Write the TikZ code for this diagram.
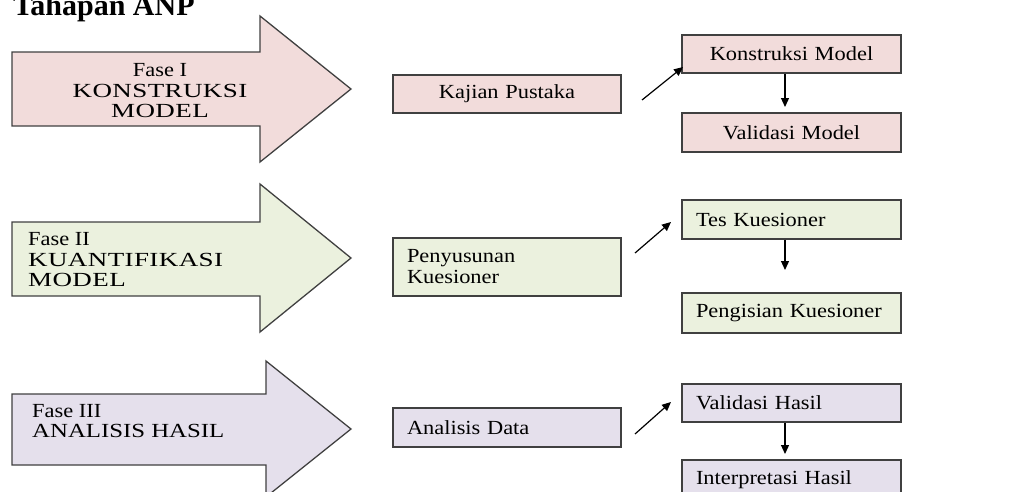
\documentclass[tikz,border=0pt]{standalone}
\usepackage{fontspec}
\setmainfont{Liberation Serif}
\newfontfamily\boxfont[FakeStretch=1.12]{Liberation Serif}
\newfontfamily\capfont[FakeStretch=1.35,LetterSpace=2]{Liberation Serif}
\newfontfamily\capfontb[FakeStretch=1.24]{Liberation Serif}
\usetikzlibrary{arrows.meta}
\definecolor{pinkF}{HTML}{F2DCDB}
\definecolor{greenF}{HTML}{EBF1DE}
\definecolor{purpleF}{HTML}{E5E0EC}
\definecolor{edgeC}{HTML}{404040}
\begin{document}
\begin{tikzpicture}[x=1pt,y=-1pt,
  phase/.style={draw=edgeC, line width=1.3pt},
  stagebox/.style={draw=edgeC, line width=1.3pt, inner ysep=0pt, inner xsep=14pt,
    font=\boxfont\fontsize{20}{21}\selectfont},
  wideA/.style={stagebox, text width=200pt, minimum height=#1},
  wideB/.style={stagebox, text width=191pt, minimum height=#1},
  phasetext/.style={inner sep=0pt, font=\boxfont\fontsize{20}{20.5}\selectfont},
  link/.style={line width=1.2pt, -{Triangle[length=9pt,width=8pt]}}
]
\useasboundingbox (0,0) rectangle (1032,491);
\clip (0,0) rectangle (1032,491);

% title
\node[anchor=base west, inner sep=0pt, font=\bfseries\fontsize{30}{30}\selectfont] (title) at (13,15) {Tahapan ANP};

% phase arrows
\draw[phase, fill=pinkF] (12,52) -- (260,52) -- (260,16) -- (351,89) -- (260,162) -- (260,126) -- (12,126) -- cycle;
\draw[phase, fill=greenF] (12,222) -- (260,222) -- (260,184) -- (351,258) -- (260,332) -- (260,296) -- (12,296) -- cycle;
\draw[phase, fill=purpleF] (12,394) -- (266,394) -- (266,361) -- (351,429) -- (266,497) -- (266,465) -- (12,465) -- cycle;

\node[phasetext, align=center] (f1) at (160,91) {Fase I\\{\capfont KONSTRUKSI}\\{\capfont MODEL}};
\node[phasetext, align=left, anchor=west] (f2) at (28,260) {Fase II\\{\capfont KUANTIFIKASI}\\{\capfont MODEL}};
\node[phasetext, align=left, anchor=west] (f3) at (32,421) {Fase III\\{\capfontb ANALISIS HASIL}};

% row 1
\node[wideA=38pt, fill=pinkF, align=center] (kp) at (507,94) {Kajian Pustaka};
\node[wideB=38pt, fill=pinkF, align=center] (km) at (791.5,54) {Konstruksi Model};
\node[wideB=39pt, fill=pinkF, align=center] (vm) at (791.5,132.5) {Validasi Model};
% row 2
\node[wideA=58pt, fill=greenF, align=left] (pk) at (507,267) {Penyusunan\\Kuesioner};
\node[wideB=39pt, fill=greenF, align=left] (tk) at (791.5,219.5) {Tes Kuesioner};
\node[wideB=40pt, fill=greenF, align=left] (pq) at (791.5,313) {Pengisian Kuesioner};
% row 3
\node[wideA=39pt, fill=purpleF, align=left] (ad) at (507,427.5) {Analisis Data};
\node[wideB=38pt, fill=purpleF, align=left] (vh) at (791.5,403) {Validasi Hasil};
\node[wideB=40pt, fill=purpleF, align=left] (ih) at (791.5,480) {Interpretasi Hasil};

% connectors
\coordinate (s1) at (642,100);
\coordinate (e1) at (683,67);
\coordinate (s2) at (635,253);
\coordinate (e2) at (671,222);
\coordinate (s3) at (635,434);
\coordinate (e3) at (671,402);
\draw[link] (s1) -- (e1);
\draw[link] (s2) -- (e2);
\draw[link] (s3) -- (e3);

\coordinate (d1) at (785,107);
\coordinate (d2) at (785,270);
\coordinate (d3) at (785,454);
\draw[link] (km.south -| d1) -- (d1);
\draw[link] (tk.south -| d2) -- (d2);
\draw[link] (vh.south -| d3) -- (d3);
\end{tikzpicture}
\end{document}
